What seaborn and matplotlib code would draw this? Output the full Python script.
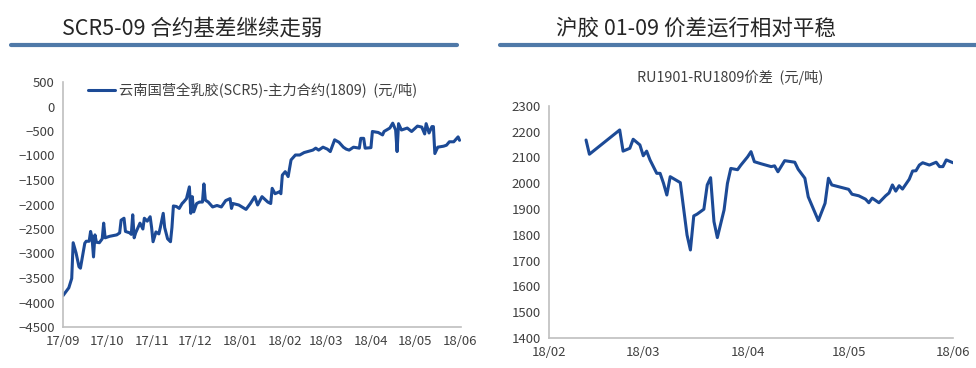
import pandas as pd
import matplotlib
matplotlib.use("Agg")
import matplotlib.pyplot as plt
import matplotlib.dates as mdates
import seaborn as sns

# SCR5 vs main contract (1809) basis, yuan/ton
scr_dates = [
    "2017-09-01", "2017-09-03", "2017-09-05", "2017-09-07", "2017-09-08", "2017-09-10",
    "2017-09-12", "2017-09-13", "2017-09-16", "2017-09-17", "2017-09-19", "2017-09-20",
    "2017-09-21", "2017-09-22", "2017-09-23", "2017-09-24", "2017-09-26", "2017-09-28",
    "2017-09-29", "2017-09-30", "2017-10-03", "2017-10-08", "2017-10-10", "2017-10-11",
    "2017-10-13", "2017-10-14", "2017-10-17", "2017-10-18", "2017-10-19", "2017-10-20",
    "2017-10-21", "2017-10-24", "2017-10-26", "2017-10-27", "2017-10-29", "2017-10-31",
    "2017-11-01", "2017-11-02", "2017-11-04", "2017-11-06", "2017-11-07", "2017-11-09",
    "2017-11-10", "2017-11-12", "2017-11-14", "2017-11-15", "2017-11-16", "2017-11-18",
    "2017-11-20", "2017-11-22", "2017-11-23", "2017-11-25", "2017-11-27", "2017-11-28",
    "2017-11-29", "2017-11-30", "2017-12-02", "2017-12-04", "2017-12-06", "2017-12-07",
    "2017-12-08", "2017-12-10", "2017-12-13", "2017-12-16", "2017-12-19", "2017-12-22",
    "2017-12-25", "2017-12-26", "2017-12-27", "2017-12-31", "2018-01-05", "2018-01-08",
    "2018-01-11", "2018-01-13", "2018-01-16", "2018-01-20", "2018-01-22", "2018-01-23",
    "2018-01-25", "2018-01-28", "2018-01-29", "2018-01-30", "2018-02-01", "2018-02-03",
    "2018-02-05", "2018-02-08", "2018-02-11", "2018-02-14", "2018-02-20", "2018-02-22",
    "2018-02-24", "2018-02-27", "2018-03-02", "2018-03-04", "2018-03-07", "2018-03-10",
    "2018-03-13", "2018-03-15", "2018-03-17", "2018-03-20", "2018-03-24", "2018-03-25",
    "2018-03-27", "2018-03-28", "2018-04-01", "2018-04-02", "2018-04-06", "2018-04-09",
    "2018-04-10", "2018-04-14", "2018-04-16", "2018-04-18", "2018-04-19", "2018-04-20",
    "2018-04-22", "2018-04-26", "2018-04-29", "2018-05-03", "2018-05-06", "2018-05-08",
    "2018-05-09", "2018-05-11", "2018-05-13", "2018-05-14", "2018-05-15", "2018-05-17",
    "2018-05-21", "2018-05-23", "2018-05-25", "2018-05-28", "2018-05-31", "2018-06-01",
]
scr_basis = [
    -3860, -3780, -3700, -3510, -2780, -2990,
    -3270, -3300, -2790, -2750, -2750, -2550,
    -2680, -3070, -2620, -2770, -2780, -2700,
    -2380, -2680, -2650, -2620, -2580, -2320,
    -2280, -2550, -2580, -2610, -2210, -2680,
    -2580, -2380, -2500, -2280, -2340, -2250,
    -2470, -2760, -2560, -2600, -2470, -2180,
    -2470, -2700, -2760, -2470, -2030, -2040,
    -2080, -1980, -1950, -1880, -1640, -2180,
    -1840, -2150, -1980, -1950, -1950, -1580,
    -1910, -1950, -2050, -2020, -2050, -1920,
    -1880, -2080, -1980, -2010, -2100, -1980,
    -1840, -2010, -1840, -1950, -1980, -1670,
    -1780, -1740, -1780, -1400, -1330, -1430,
    -1090, -990, -990, -940, -890, -850,
    -890, -830, -870, -920, -680, -730,
    -830, -870, -890, -830, -850, -650,
    -650, -850, -840, -510, -530, -580,
    -510, -440, -340, -480, -920, -350,
    -480, -440, -510, -400, -420, -560,
    -350, -540, -410, -410, -960, -830,
    -810, -790, -720, -720, -620, -690,
]

# RU1901 - RU1809 spread, yuan/ton
ru_dates = [
    "2018-02-12", "2018-02-13", "2018-02-22", "2018-02-23", "2018-02-25", "2018-02-26",
    "2018-02-28", "2018-03-01", "2018-03-02", "2018-03-03", "2018-03-05", "2018-03-06",
    "2018-03-07", "2018-03-08", "2018-03-09", "2018-03-12", "2018-03-14", "2018-03-15",
    "2018-03-16", "2018-03-17", "2018-03-19", "2018-03-20", "2018-03-21", "2018-03-22",
    "2018-03-23", "2018-03-25", "2018-03-26", "2018-03-27", "2018-03-29", "2018-03-30",
    "2018-04-01", "2018-04-02", "2018-04-03", "2018-04-05", "2018-04-08", "2018-04-09",
    "2018-04-10", "2018-04-12", "2018-04-15", "2018-04-16", "2018-04-18", "2018-04-19",
    "2018-04-22", "2018-04-24", "2018-04-25", "2018-04-26", "2018-05-01", "2018-05-02",
    "2018-05-04", "2018-05-06", "2018-05-07", "2018-05-08", "2018-05-10", "2018-05-12",
    "2018-05-13", "2018-05-14", "2018-05-15", "2018-05-16", "2018-05-17", "2018-05-19",
    "2018-05-20", "2018-05-21", "2018-05-22", "2018-05-23", "2018-05-25", "2018-05-27",
    "2018-05-28", "2018-05-29", "2018-05-30", "2018-06-01",
]
ru_spread = [
    2167, 2112, 2206, 2124, 2135, 2170,
    2148, 2106, 2124, 2090, 2038, 2038,
    2000, 1954, 2025, 2002, 1799, 1741,
    1873, 1880, 1899, 1993, 2021, 1851,
    1789, 1896, 1999, 2057, 2052, 2070,
    2102, 2122, 2083, 2075, 2064, 2067,
    2044, 2087, 2081, 2054, 2019, 1947,
    1855, 1922, 2019, 1993, 1976, 1957,
    1951, 1938, 1924, 1942, 1924, 1951,
    1962, 1993, 1969, 1990, 1977, 2015,
    2047, 2048, 2070, 2079, 2070, 2081,
    2064, 2064, 2090, 2079,
]

left_yticks = list(range(-4500, 501, 500))
right_yticks = list(range(1400, 2301, 100))

sns.set_theme(style="white")
plt.rcParams['font.family'] = ['Noto Sans CJK SC', 'DejaVu Sans']

line_color = "#1c4a96"
bar_color = "#4f79a8"
text_color = "#404040"
spine_color = "#bfbfbf"

df_scr = pd.DataFrame({"date": pd.to_datetime(scr_dates), "basis": scr_basis})
df_ru = pd.DataFrame({"date": pd.to_datetime(ru_dates), "spread": ru_spread})

fig = plt.figure(figsize=(9.76, 3.68), dpi=100)

# panel headers with blue underline
fig.text(62 / 976, 1 - 29 / 368, "SCR5-09 合约基差继续走弱", fontsize=15.5,
         color="#262626", va="center", ha="left")
fig.text(556 / 976, 1 - 29 / 368, "沪胶 01-09 价差运行相对平稳", fontsize=15.5,
         color="#262626", va="center", ha="left")
fig.add_artist(plt.Line2D([11 / 976, 457 / 976], [1 - 45 / 368] * 2,
                          color=bar_color, linewidth=3))
fig.add_artist(plt.Line2D([500 / 976, 1.0], [1 - 45 / 368] * 2,
                          color=bar_color, linewidth=3))

# left chart
ax1 = fig.add_axes([63 / 976, 1 - 327 / 368, (461 - 63) / 976, (327 - 82) / 368])
sns.lineplot(data=df_scr, x="date", y="basis", ax=ax1, color=line_color, linewidth=2.2,
             label="云南国营全乳胶(SCR5)-主力合约(1809)  (元/吨)")
ax1.set_ylim(-4500, 500)
ax1.set_yticks(left_yticks)
ax1.set_xlim(pd.Timestamp("2017-09-01"), pd.Timestamp("2018-06-02"))
ax1.legend(loc="upper left", frameon=False, fontsize=10.3, bbox_to_anchor=(0.03, 1.05),
           handlelength=1.9, handletextpad=0.3, labelcolor=text_color)

# right chart
ax2 = fig.add_axes([549 / 976, 1 - 338 / 368, (953 - 549) / 976, (338 - 105.7) / 368])
sns.lineplot(data=df_ru, x="date", y="spread", ax=ax2, color=line_color, linewidth=2.2)
ax2.set_ylim(1400, 2300)
ax2.set_yticks(right_yticks)
ax2.set_xlim(pd.Timestamp("2018-02-01"), pd.Timestamp("2018-06-01"))
fig.text(730 / 976, 1 - 77 / 368, "RU1901-RU1809价差  (元/吨)", fontsize=10.3,
         color=text_color, ha="center", va="center")

for ax in (ax1, ax2):
    ax.xaxis.set_major_locator(mdates.MonthLocator())
    ax.xaxis.set_major_formatter(mdates.DateFormatter("%y/%m"))
    ax.set_xlabel("")
    ax.set_ylabel("")
    for side in ("top", "right"):
        ax.spines[side].set_visible(False)
    for side in ("left", "bottom"):
        ax.spines[side].set_color(spine_color)
        ax.spines[side].set_linewidth(1.2)
    ax.tick_params(axis="both", length=0, labelsize=9.5, colors=text_color, pad=6)
    ax.grid(False)

fig.savefig("out.png", dpi=100)
